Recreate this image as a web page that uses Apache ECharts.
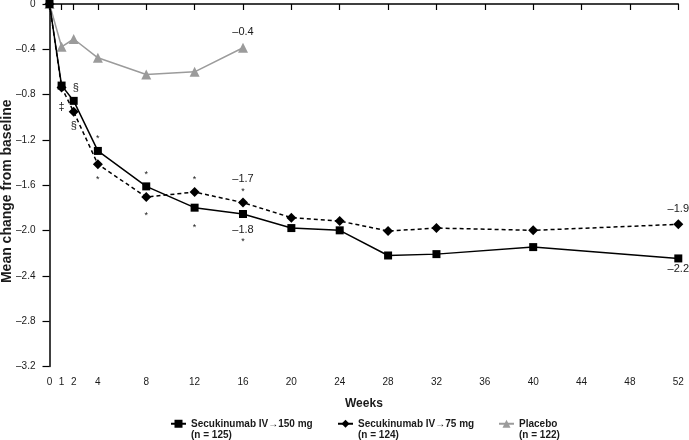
<!DOCTYPE html>
<html>
<head>
<meta charset="utf-8">
<script src="https://cdn.jsdelivr.net/npm/echarts@6/dist/echarts.min.js"></script>
<style>html,body{margin:0;padding:0;background:#fff}#c{width:689px;height:440px}</style>
</head>
<body>
<div id="c"></div>
<script>
// ---- data ----
const weeks = [0, 1, 2, 4, 8, 12, 16, 20, 24, 28, 32, 40, 52];
const secu150 = [0, -0.72, -0.855, -1.297, -1.61, -1.798, -1.854, -1.978, -1.998, -2.22, -2.208, -2.146, -2.246];
const secu75 = [0, -0.737, -0.952, -1.415, -1.704, -1.66, -1.753, -1.886, -1.916, -2.004, -1.978, -1.998, -1.945];
const placeboWeeks = [0, 1, 2, 4, 8, 12, 16];
const placebo = [0, -0.378, -0.309, -0.475, -0.622, -0.599, -0.386];
const xTicks = [0, 1, 2, 4, 8, 12, 16, 20, 24, 28, 32, 36, 40, 44, 48, 52];
const seriesNames = ['Secukinumab IV\u2192150 mg', 'Secukinumab IV\u219275 mg', 'Placebo'];
const seriesN = ['(n = 125)', '(n = 124)', '(n = 122)'];
const notes150 = [[2, '§'], [4, '*'], [8, '*'], [12, '*'], [16, '–1.8\n*'], [52, '–2.2']];
const notes75 = [[1, '‡'], [2, '§'], [4, '*'], [8, '*'], [12, '*'], [16, '–1.7\n*'], [52, '–1.9']];
const notesPlacebo = [[16, '–0.4']];

// ---- placement of annotations (style, not data) ----
const place150 = {
  2: {position: 'top', distance: 3, offset: [2, 0]},
  4: {position: 'top', distance: 3},
  8: {position: 'top', distance: 2},
  12: {position: 'bottom', distance: 10},
  16: {position: 'bottom', distance: 5},
  52: {position: 'bottom', distance: 0}
};
const place75 = {
  1: {position: 'bottom', distance: 8},
  2: {position: 'bottom', distance: 3},
  4: {position: 'bottom', distance: 5},
  8: {position: 'bottom', distance: 8},
  12: {position: 'top', distance: 2},
  16: {position: 'top', distance: 1},
  52: {position: 'top', distance: 4}
};
const placePlacebo = {16: {position: 'top', distance: 4}};

const FONT = '"Liberation Sans", Arial, sans-serif';
const TXT = '#1a1a1a';

function fmtNote(t) {
  return t.split('\n').map(l => {
    if (l === '*') return '{s|*}';
    if (l === '§' || l === '‡') return '{g|' + l + '}';
    return '{v|' + l + '}';
  }).join('\n');
}
const rich = {
  v: {fontSize: 11, lineHeight: 13, color: TXT, fontFamily: FONT},
  s: {fontSize: 9, lineHeight: 11, color: TXT, fontFamily: FONT},
  g: {fontSize: 11, lineHeight: 12, color: TXT, fontFamily: FONT}
};
function mkData(xs, ys, notes, place) {
  return xs.map((x, i) => {
    const item = {value: [x, ys[i]]};
    const n = notes.find(d => d[0] === x);
    if (n) item.label = Object.assign({show: true, formatter: fmtNote(n[1]), rich: rich}, place[x] || {});
    return item;
  });
}

function mkLegend(name, n, left) {
  return {
    data: [name],
    left: left, top: 419,
    orient: 'horizontal',
    itemWidth: 15, itemHeight: 10,
    padding: 0,
    lineStyle: {type: 'solid'},
    formatter: () => '{a|' + name + '}\n{a|' + n + '}',
    textStyle: {
      padding: [12, 0, 0, 0],
      rich: {a: {fontSize: 10, fontWeight: 'bold', lineHeight: 11.5, color: TXT, fontFamily: FONT}}
    }
  };
}

const chart = echarts.init(document.getElementById('c'), null, {renderer: 'canvas'});
chart.setOption({
  animation: false,
  backgroundColor: '#fff',
  textStyle: {fontFamily: FONT},
  grid: {left: 49.5, right: 10.7, top: 4, bottom: 73.5, containLabel: false, outerBoundsMode: 'none'},
  legend: [
    mkLegend(seriesNames[0], seriesN[0], 170),
    mkLegend(seriesNames[1], seriesN[1], 337),
    mkLegend(seriesNames[2], seriesN[2], 498)
  ],
  xAxis: {
    type: 'value', min: 0, max: 52,
    name: 'Weeks', nameLocation: 'middle', nameGap: 31, nameMoveOverlap: false,
    nameTextStyle: {fontSize: 12, fontWeight: 'bold', color: TXT, fontFamily: FONT},
    axisLine: {show: true, lineStyle: {color: '#000', width: 1.5}},
    axisTick: {show: true, length: 6, lineStyle: {color: '#000', width: 1.2}, customValues: xTicks},
    axisLabel: {fontSize: 10, color: TXT, margin: 11, customValues: xTicks, fontFamily: FONT},
    splitLine: {show: false}
  },
  yAxis: {
    type: 'value', min: -3.2, max: 0, interval: 0.4,
    name: 'Mean change from baseline', nameLocation: 'middle', nameGap: 35, nameRotate: 90,
    nameMoveOverlap: false,
    nameTextStyle: {fontSize: 14, fontWeight: 'bold', color: TXT, fontFamily: FONT, padding: [0, 12, 0, 0]},
    axisLine: {show: true, onZero: false, lineStyle: {color: '#000', width: 1.5}},
    axisTick: {show: true, length: 7, lineStyle: {color: '#000', width: 1.2}},
    axisLabel: {fontSize: 10, color: TXT, margin: 14, fontFamily: FONT,
      formatter: v => (Math.abs(v) < 1e-9 ? '0' : '–' + Math.abs(v).toFixed(1))},
    splitLine: {show: false}
  },
  series: [
    {
      name: seriesNames[2], type: 'line',
      data: mkData(placeboWeeks, placebo, notesPlacebo, placePlacebo),
      symbol: 'triangle', symbolSize: 10,
      lineStyle: {color: '#9b9b9b', width: 1.5},
      itemStyle: {color: '#9b9b9b'},
      z: 2
    },
    {
      name: seriesNames[1], type: 'line',
      data: mkData(weeks, secu75, notes75, place75),
      symbol: 'diamond', symbolSize: 10,
      lineStyle: {color: '#000', width: 1.5, type: [4, 3]},
      itemStyle: {color: '#000'},
      z: 3
    },
    {
      name: seriesNames[0], type: 'line',
      data: mkData(weeks, secu150, notes150, place150),
      symbol: 'rect', symbolSize: 8,
      lineStyle: {color: '#000', width: 1.5},
      itemStyle: {color: '#000'},
      z: 4
    }
  ]
});
</script>
</body>
</html>
